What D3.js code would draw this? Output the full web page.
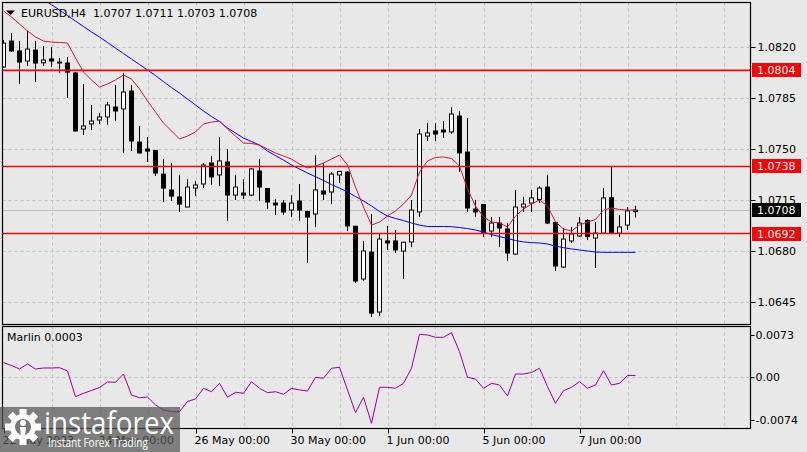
<!DOCTYPE html>
<html>
<head>
<meta charset="utf-8">
<script src="https://cdn.jsdelivr.net/npm/d3@7"></script>
<style>
  html, body { margin: 0; padding: 0; background: #e8e8e8; }
  svg { display: block; }
  text { font-family: "DejaVu Sans", sans-serif; font-size: 11px; }
</style>
</head>
<body>
<div id="chart"></div>
<script>
// EURUSD H4 candles, 22 May 2023 00:00 .. 8 Jun 2023 04:00
var open = [
  1.08063, 1.08241, 1.08173, 1.08104, 1.08179, 1.08092, 1.08118, 1.08097, 1.08090, 1.08022,
  1.07637, 1.07672, 1.07699, 1.07720, 1.07788, 1.07775, 1.07898, 1.07548, 1.07500, 1.07490,
  1.07328, 1.07219, 1.07171, 1.07102, 1.07232, 1.07260, 1.07404, 1.07322, 1.07411, 1.07184,
  1.07198, 1.07184, 1.07349, 1.07229, 1.07129, 1.07129, 1.07081, 1.07143, 1.07071, 1.07054,
  1.07212, 1.07205, 1.07322, 1.07342, 1.06970, 1.06608, 1.06793, 1.06381, 1.06869, 1.06869,
  1.06800, 1.06862, 1.07068, 1.07589, 1.07624, 1.07630, 1.07617, 1.07726, 1.07479, 1.07088,
  1.07119, 1.06937, 1.06992, 1.06951, 1.06779, 1.07102, 1.07129, 1.07153, 1.07239, 1.06996,
  1.06690, 1.06869, 1.06903, 1.07009, 1.06889, 1.06923, 1.07166, 1.06923, 1.06978, 1.07070];
var high = [
  1.08248, 1.08296, 1.08241, 1.08310, 1.08241, 1.08207, 1.08200, 1.08125, 1.08131, 1.08028,
  1.07946, 1.07802, 1.07747, 1.07823, 1.07939, 1.08022, 1.07939, 1.07658, 1.07582, 1.07493,
  1.07431, 1.07404, 1.07322, 1.07294, 1.07280, 1.07404, 1.07452, 1.07582, 1.07500, 1.07322,
  1.07294, 1.07370, 1.07431, 1.07232, 1.07157, 1.07150, 1.07184, 1.07260, 1.07075, 1.07459,
  1.07404, 1.07342, 1.07349, 1.07349, 1.06972, 1.06869, 1.07054, 1.06917, 1.06972, 1.06944,
  1.06862, 1.07150, 1.07637, 1.07678, 1.07678, 1.07692, 1.07788, 1.07761, 1.07713, 1.07150,
  1.07122, 1.07033, 1.07033, 1.06992, 1.07219, 1.07171, 1.07219, 1.07246, 1.07322, 1.06999,
  1.06958, 1.06965, 1.07033, 1.07020, 1.06999, 1.07232, 1.07385, 1.07047, 1.07102, 1.07110];
var low = [
  1.08056, 1.08166, 1.07946, 1.08070, 1.07960, 1.08070, 1.08063, 1.08022, 1.07850, 1.07620,
  1.07596, 1.07630, 1.07672, 1.07665, 1.07692, 1.07473, 1.07486, 1.07470, 1.07411, 1.07315,
  1.07136, 1.07143, 1.07068, 1.07100, 1.07177, 1.07232, 1.07253, 1.07246, 1.07006, 1.07150,
  1.07157, 1.07177, 1.07143, 1.07088, 1.07047, 1.07047, 1.07033, 1.07006, 1.06718, 1.06965,
  1.07150, 1.07122, 1.07267, 1.06937, 1.06580, 1.06594, 1.06347, 1.06354, 1.06807, 1.06786,
  1.06608, 1.06827, 1.07033, 1.07555, 1.07555, 1.07576, 1.07603, 1.07342, 1.07068, 1.07033,
  1.06896, 1.06896, 1.06827, 1.06731, 1.06776, 1.07068, 1.07068, 1.07129, 1.06985, 1.06663,
  1.06683, 1.06855, 1.06896, 1.06875, 1.06683, 1.06920, 1.06920, 1.06896, 1.06944, 1.07030];
var close = [
  1.08227, 1.08173, 1.08097, 1.08186, 1.08090, 1.08111, 1.08104, 1.08094, 1.08028, 1.07624,
  1.07658, 1.07692, 1.07720, 1.07802, 1.07761, 1.07891, 1.07555, 1.07473, 1.07486, 1.07335,
  1.07232, 1.07177, 1.07122, 1.07239, 1.07253, 1.07390, 1.07308, 1.07418, 1.07184, 1.07239,
  1.07184, 1.07363, 1.07239, 1.07136, 1.07116, 1.07068, 1.07129, 1.07081, 1.07033, 1.07219,
  1.07191, 1.07328, 1.07346, 1.06972, 1.06594, 1.06800, 1.06374, 1.06882, 1.06855, 1.06807,
  1.06860, 1.07081, 1.07603, 1.07610, 1.07603, 1.07617, 1.07740, 1.07473, 1.07095, 1.07068,
  1.06923, 1.06992, 1.06958, 1.06786, 1.07102, 1.07122, 1.07164, 1.07232, 1.06992, 1.06697,
  1.06882, 1.06917, 1.06992, 1.06899, 1.06923, 1.07164, 1.06926, 1.06965, 1.07075, 1.07080];

// moving averages (red = fast, blue = slow)
var maFast = [
  1.08447, 1.08406, 1.08358, 1.08310, 1.08269, 1.08241, 1.08234, 1.08231, 1.08227, 1.08125,
  1.08028, 1.07974, 1.07925, 1.07946, 1.07974, 1.08008, 1.07980, 1.07912, 1.07829, 1.07754,
  1.07678, 1.07624, 1.07569, 1.07589, 1.07617, 1.07672, 1.07685, 1.07692, 1.07637, 1.07589,
  1.07541, 1.07538, 1.07527, 1.07500, 1.07473, 1.07452, 1.07431, 1.07397, 1.07370, 1.07383,
  1.07404, 1.07431, 1.07459, 1.07390, 1.07239, 1.07102, 1.06978, 1.06999, 1.07040, 1.07075,
  1.07122, 1.07184, 1.07342, 1.07418, 1.07442, 1.07445, 1.07435, 1.07383, 1.07226, 1.07109,
  1.07033, 1.06999, 1.06992, 1.06965, 1.07040, 1.07088, 1.07122, 1.07150, 1.07109, 1.06999,
  1.06951, 1.06937, 1.06978, 1.06999, 1.07016, 1.07081, 1.07095, 1.07085, 1.07081, 1.07081];
var maSlow = [
  null, null, null, null, null, 1.08527, 1.08490, 1.08454, 1.08416, 1.08378,
  1.08341, 1.08303, 1.08269, 1.08231, 1.08193, 1.08155, 1.08118, 1.08080, 1.08042, 1.08004,
  1.07963, 1.07922, 1.07884, 1.07843, 1.07802, 1.07761, 1.07723, 1.07689, 1.07644, 1.07610,
  1.07575, 1.07551, 1.07527, 1.07486, 1.07455, 1.07424, 1.07390, 1.07363, 1.07335, 1.07310,
  1.07284, 1.07256, 1.07232, 1.07205, 1.07174, 1.07143, 1.07109, 1.07071, 1.07040, 1.07023,
  1.07009, 1.06992, 1.06978, 1.06968, 1.06968, 1.06968, 1.06967, 1.06961, 1.06954, 1.06944,
  1.06930, 1.06913, 1.06899, 1.06886, 1.06872, 1.06862, 1.06858, 1.06855, 1.06848, 1.06834,
  1.06823, 1.06814, 1.06807, 1.06800, 1.06793, 1.06791, 1.06791, 1.06791, 1.06791, 1.06791];

// Marlin oscillator
var marlin = [
  0.00254, 0.00202, 0.00142, 0.00228, 0.00142, 0.00159, 0.00159, 0.00164, 0.00107, -0.00337,
  -0.00279, -0.00230, -0.00178, -0.00083, -0.00088, 0.00055, -0.00308, -0.00355, -0.00343, -0.00481,
  -0.00567, -0.00593, -0.00597, -0.00420, -0.00377, -0.00192, -0.00251, -0.00106, -0.00348, -0.00261,
  -0.00279, -0.00078, -0.00192, -0.00268, -0.00251, -0.00296, -0.00192, -0.00221, -0.00239, -0.00002,
  -0.00019, 0.00154, 0.00171, -0.00221, -0.00614, -0.00348, -0.00798, -0.00175, -0.00175, -0.00192,
  -0.00106, 0.00154, 0.00742, 0.00730, 0.00690, 0.00690, 0.00770, 0.00441, -0.00002, -0.00031,
  -0.00192, -0.00106, -0.00135, -0.00325, 0.00055, 0.00055, 0.00081, 0.00154, -0.00164, -0.00452,
  -0.00234, -0.00175, -0.00078, -0.00192, -0.00135, 0.00112, -0.00135, -0.00106, 0.00030, 0.00030];

var priceTicks = [1.0820, 1.0785, 1.0750, 1.0715, 1.0680, 1.0645];
var levels = [1.0804, 1.0738, 1.0692];
var bid = 1.0708;
var oscTicks = [0.0073, 0, -0.0074];
var oscTickLabels = ["0.0073", "0.00", "-0.0074"];
var timeTickIdx = [0, 12, 24, 36, 48, 60, 72];
var timeTickLabels = ["22 May 2023", "24 May 00:00", "26 May 00:00", "30 May 00:00",
                      "1 Jun 00:00", "5 Jun 00:00", "7 Jun 00:00"];
var header = "EURUSD,H4  1.0707 1.0711 1.0703 1.0708";
var oscName = "Marlin 0.0003";

var W = 807, H = 452;
var L = 2.5, R = 750.5, mainTop = 2.5, mainBot = 324.5, oscTop = 326.5, oscBot = 428.5;

var svg = d3.select("#chart").append("svg").attr("width", W).attr("height", H);
svg.append("rect").attr("width", W).attr("height", H).attr("fill", "#e8e8e8");

var x = d3.scaleLinear().domain([0, 90]).range([3.5, 723.5]);
var y = d3.scaleLinear().domain([1.06299, 1.08509]).range([324, 2]);
var yo = d3.scaleLinear().domain([-0.00879, 0.00868]).range([428, 327]);

var defs = svg.append("defs");
defs.append("clipPath").attr("id", "clipMain").append("rect")
  .attr("x", L).attr("y", mainTop).attr("width", R - L).attr("height", mainBot - mainTop);
defs.append("clipPath").attr("id", "clipOsc").append("rect")
  .attr("x", L).attr("y", oscTop).attr("width", R - L).attr("height", oscBot - oscTop);

var grid = "#c3c3c3";
var vIdx = d3.range(6, 91, 6);

// main panel grid
var main = svg.append("g").attr("clip-path", "url(#clipMain)");
main.selectAll(".vg").data(vIdx).enter().append("line")
  .attr("x1", function(d){ return Math.round(x(d)) + 0.5; })
  .attr("x2", function(d){ return Math.round(x(d)) + 0.5; })
  .attr("y1", mainTop).attr("y2", mainBot)
  .attr("stroke", grid).attr("stroke-dasharray", "3,3");
main.selectAll(".hg").data(priceTicks).enter().append("line")
  .attr("x1", L).attr("x2", R)
  .attr("y1", function(d){ return Math.round(y(d)) + 0.5; })
  .attr("y2", function(d){ return Math.round(y(d)) + 0.5; })
  .attr("stroke", grid).attr("stroke-dasharray", "3,3");
// bid line
main.append("line").attr("x1", L).attr("x2", R)
  .attr("y1", Math.round(y(bid)) + 0.5).attr("y2", Math.round(y(bid)) + 0.5)
  .attr("stroke", "#c0c0c0");

// candles
var idx = d3.range(open.length);
main.selectAll(".wick").data(idx).enter().append("line")
  .attr("x1", function(i){ return x(i); }).attr("x2", function(i){ return x(i); })
  .attr("y1", function(i){ return y(high[i]); }).attr("y2", function(i){ return y(low[i]); })
  .attr("stroke", "#000");
main.selectAll(".body").data(idx).enter().append("rect")
  .attr("x", function(i){ return x(i) - 2; })
  .attr("width", 4)
  .attr("y", function(i){ return Math.min(y(open[i]), y(close[i])); })
  .attr("height", function(i){ return Math.max(1, Math.abs(y(open[i]) - y(close[i]))); })
  .attr("fill", function(i){ return close[i] > open[i] ? "#fff" : "#000"; })
  .attr("stroke", "#000");

// moving averages
var lineFast = d3.line().x(function(d, i){ return x(i); }).y(function(d){ return y(d); });
var lineSlow = d3.line().defined(function(d){ return d !== null; })
  .x(function(d, i){ return x(i); }).y(function(d){ return y(d); });
main.append("path").datum(maSlow).attr("d", lineSlow)
  .attr("fill", "none").attr("stroke", "#0000ff").attr("stroke-width", 1);
main.append("path").datum(maFast).attr("d", lineFast)
  .attr("fill", "none").attr("stroke", "#dc143c").attr("stroke-width", 1);

// horizontal levels
main.selectAll(".lvl").data(levels).enter().append("line")
  .attr("x1", L).attr("x2", R)
  .attr("y1", function(d){ return y(d); }).attr("y2", function(d){ return y(d); })
  .attr("stroke", "#ff0000").attr("stroke-width", 1.6);

// oscillator panel
var osc = svg.append("g").attr("clip-path", "url(#clipOsc)");
osc.selectAll(".vg").data(vIdx).enter().append("line")
  .attr("x1", function(d){ return Math.round(x(d)) + 0.5; })
  .attr("x2", function(d){ return Math.round(x(d)) + 0.5; })
  .attr("y1", oscTop).attr("y2", oscBot)
  .attr("stroke", grid).attr("stroke-dasharray", "3,3");
osc.append("line").attr("x1", L).attr("x2", R)
  .attr("y1", Math.round(yo(0)) + 0.5).attr("y2", Math.round(yo(0)) + 0.5)
  .attr("stroke", grid).attr("stroke-dasharray", "3,3");
var lineOsc = d3.line().x(function(d, i){ return x(i); }).y(function(d){ return yo(d); });
osc.append("path").datum(marlin).attr("d", lineOsc)
  .attr("fill", "none").attr("stroke", "#990099").attr("stroke-width", 1);

// panel borders
[[mainTop, mainBot], [oscTop, oscBot]].forEach(function(p){
  svg.append("rect").attr("x", L).attr("y", p[0]).attr("width", R - L).attr("height", p[1] - p[0])
    .attr("fill", "none").attr("stroke", "#000").attr("stroke-width", 1.2);
});

// price axis
var yAxis = d3.axisRight(y).tickValues(priceTicks).tickSize(5).tickPadding(2)
  .tickFormat(d3.format(".4f"));
var ga = svg.append("g").attr("transform", "translate(" + R + ",0)").call(yAxis);
ga.select(".domain").remove();
ga.selectAll("text").attr("fill", "#000").style("font-size", "11px").style("font-family", "DejaVu Sans");

// level / bid labels on the axis
var tags = levels.map(function(v){ return {v: v, bg: "#ff0000"}; });
tags.push({v: bid, bg: "#000"});
var tg = svg.selectAll(".tag").data(tags).enter().append("g")
  .attr("transform", function(d){ return "translate(752," + Math.round(y(d.v)) + ")"; });
tg.append("rect").attr("x", 0).attr("y", -7).attr("width", 49).attr("height", 14)
  .attr("fill", function(d){ return d.bg; });
tg.append("text").attr("x", 5).attr("y", 4).attr("fill", "#fff")
  .text(function(d){ return d3.format(".4f")(d.v); });

// oscillator axis
var oAxis = d3.axisRight(yo).tickValues(oscTicks).tickSize(4).tickPadding(1)
  .tickFormat(function(d, i){ return oscTickLabels[i]; });
var go = svg.append("g").attr("transform", "translate(" + R + ",0)").call(oAxis);
go.select(".domain").remove();
go.selectAll("text").attr("fill", "#000").style("font-size", "11px").style("font-family", "DejaVu Sans");

// time axis
var tx = svg.append("g");
tx.selectAll(".tt").data(timeTickIdx).enter().append("line")
  .attr("x1", function(d){ return Math.round(x(d)) + 0.5; })
  .attr("x2", function(d){ return Math.round(x(d)) + 0.5; })
  .attr("y1", oscBot).attr("y2", oscBot + 5).attr("stroke", "#000");
tx.selectAll(".tl").data(timeTickIdx).enter().append("text")
  .attr("x", function(d){ return x(d) - 1; }).attr("y", 444)
  .attr("fill", "#000")
  .text(function(d, i){ return timeTickLabels[i]; });

// header and indicator caption
svg.append("path").attr("d", "M6,10.5 L15,10.5 L10.5,15 Z").attr("fill", "#000");
svg.append("text").attr("x", 21).attr("y", 17).attr("fill", "#000").attr("xml:space", "preserve")
  .style("white-space", "pre").text(header);
svg.append("text").attr("x", 7).attr("y", 341).attr("fill", "#000").text(oscName);

// watermark
var wm = svg.append("g");
wm.append("rect").attr("x", 0).attr("y", 407).attr("width", 180).attr("height", 45)
  .attr("fill", "#555").attr("opacity", 0.72);
var gear = wm.append("g").attr("transform", "translate(23,427)").attr("fill", "#fff");
d3.range(8).forEach(function(k){
  gear.append("rect").attr("x", -3.5).attr("y", -18).attr("width", 7).attr("height", 8)
    .attr("transform", "rotate(" + (k * 45) + ")");
});
gear.append("circle").attr("r", 13);
gear.append("circle").attr("r", 8).attr("fill", "#777");
gear.append("circle").attr("cy", -4).attr("r", 3).attr("fill", "#fff");
gear.append("path").attr("d", "M-3,0 L3,0 L2,10 L-2,10 Z").attr("fill", "#fff");
wm.append("text").attr("x", 44).attr("y", 434).attr("fill", "#fff")
  .attr("textLength", 130).attr("lengthAdjust", "spacingAndGlyphs")
  .style("font-family", "Open Sans").style("font-size", "31px").text("instaforex");
wm.append("text").attr("x", 48).attr("y", 447).attr("fill", "#fff")
  .attr("textLength", 100).attr("lengthAdjust", "spacingAndGlyphs")
  .style("font-family", "Open Sans").style("font-size", "12px").text("Instant Forex Trading");
</script>
</body>
</html>
